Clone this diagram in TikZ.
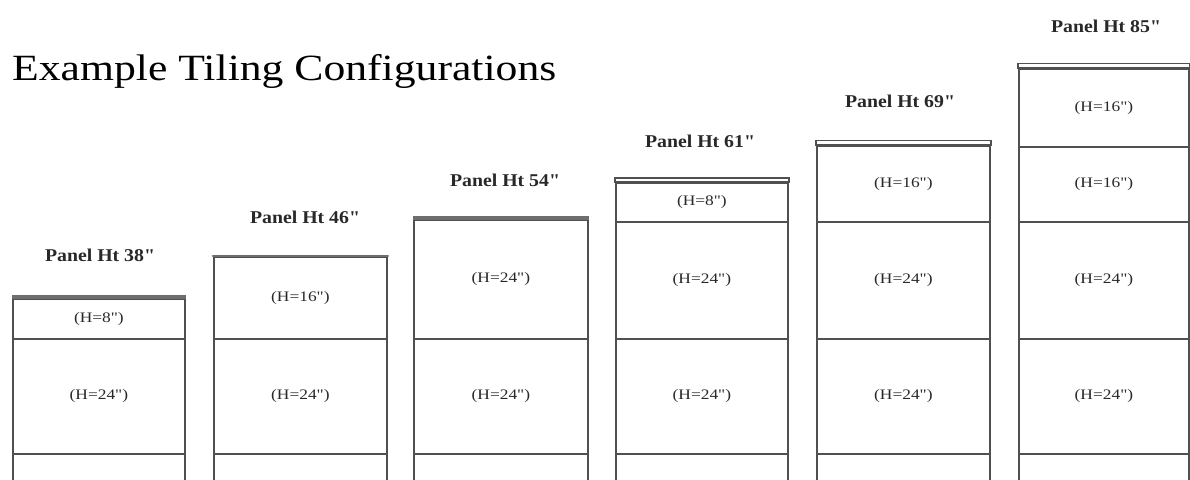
\documentclass[tikz,border=0pt]{standalone}
\usepackage{fontspec}
\setmainfont{Liberation Serif}[Ligatures=TeXOff]
\definecolor{edge}{RGB}{80,80,80}
\definecolor{txt}{RGB}{40,40,40}
\definecolor{band}{RGB}{110,110,110}
\begin{document}
\begin{tikzpicture}[x=1pt,y=-1pt,
  blk/.style={draw=edge, line width=1.8pt, inner sep=0pt, anchor=north west,
    text=txt, font=\fontsize{14.5}{14.5}\selectfont},
  ptitle/.style={text=txt, inner sep=0pt, font=\bfseries\fontsize{18}{18}\selectfont},
  capband/.style={draw=band, line width=#1},
  caprect/.style={draw=edge, line width=1.5pt}]
\useasboundingbox (0,0) rectangle (1190,479);
\clip (0,0) rectangle (1190,479);
\newcommand\hl[1]{\scalebox{1.2}[1]{(H=#1")}}
\newcommand\pt[1]{\scalebox{1.1}[1]{Panel Ht #1"}}

\node[inner sep=0pt, anchor=west, text=black, font=\fontsize{37}{37}\selectfont] (title) at (12,71) {\scalebox{1.18}[1]{Example Tiling Configurations}};

% Column 1
\node[blk, minimum width=172, minimum height=40] (c1a) at (12,298) {\hl{8}};
\node[blk, minimum width=172, minimum height=115] (c1b) at (12,338) {\hl{24}};
\node[blk, minimum width=172, minimum height=40] (c1c) at (12,453) {};
\draw[capband=4pt] ([yshift=1.5pt]c1a.north west) -- ([yshift=1.5pt]c1a.north east);
\node[ptitle] (p1) at (100,255) {\pt{38}};

% Column 2
\node[blk, minimum width=173, minimum height=82] (c2a) at (213,256) {\hl{16}};
\node[blk, minimum width=173, minimum height=115] (c2b) at (213,338) {\hl{24}};
\node[blk, minimum width=173, minimum height=40] (c2c) at (213,453) {};
\draw[capband=2.8pt, line cap=round] (c2a.north west) -- (c2a.north east);
\node[ptitle] (p2) at (305,217) {\pt{46}};

% Column 3
\node[blk, minimum width=174, minimum height=119] (c3a) at (413,219) {\hl{24}};
\node[blk, minimum width=174, minimum height=115] (c3b) at (413,338) {\hl{24}};
\node[blk, minimum width=174, minimum height=40] (c3c) at (413,453) {};
\draw[capband=3.5pt] ([yshift=1pt]c3a.north west) -- ([yshift=1pt]c3a.north east);
\node[ptitle] (p3) at (505,180) {\pt{54}};

% Column 4
\node[blk, minimum width=172, minimum height=39] (c4a) at (615,182) {\hl{8}};
\node[blk, minimum width=172, minimum height=117] (c4b) at (615,221) {\hl{24}};
\node[blk, minimum width=172, minimum height=115] (c4c) at (615,338) {\hl{24}};
\node[blk, minimum width=172, minimum height=40] (c4d) at (615,453) {};
\draw[caprect] ([yshift=4pt]c4a.north west) rectangle (c4a.north east);
\node[ptitle] (p4) at (700,141) {\pt{61}};

% Column 5
\node[blk, minimum width=173, minimum height=76] (c5a) at (816,145) {\hl{16}};
\node[blk, minimum width=173, minimum height=117] (c5b) at (816,221) {\hl{24}};
\node[blk, minimum width=173, minimum height=115] (c5c) at (816,338) {\hl{24}};
\node[blk, minimum width=173, minimum height=40] (c5d) at (816,453) {};
\draw[caprect] ([yshift=4.5pt]c5a.north west) rectangle (c5a.north east);
\node[ptitle] (p5) at (900,101) {\pt{69}};

% Column 6
\node[blk, minimum width=170, minimum height=78] (c6a) at (1018,68) {\hl{16}};
\node[blk, minimum width=170, minimum height=75] (c6b) at (1018,146) {\hl{16}};
\node[blk, minimum width=170, minimum height=117] (c6c) at (1018,221) {\hl{24}};
\node[blk, minimum width=170, minimum height=115] (c6d) at (1018,338) {\hl{24}};
\node[blk, minimum width=170, minimum height=40] (c6e) at (1018,453) {};
\draw[caprect] ([yshift=4.5pt]c6a.north west) rectangle (c6a.north east);
\node[ptitle] (p6) at (1106,26) {\pt{85}};
\end{tikzpicture}
\end{document}
